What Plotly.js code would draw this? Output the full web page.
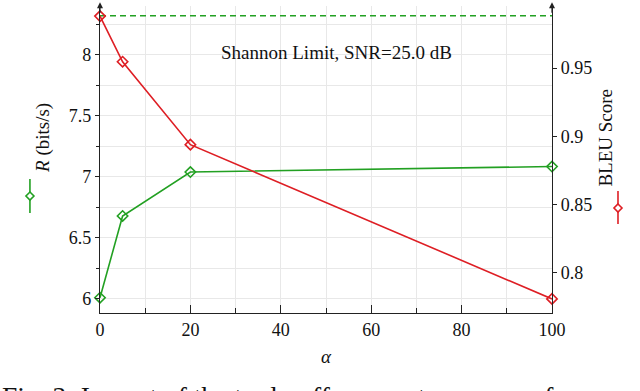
<!DOCTYPE html>
<html>
<head>
<meta charset="utf-8">
<script src="https://cdn.plot.ly/plotly-3.0.1.min.js"></script>
<style>
  body { margin: 0; background: #fff; }
  #chart { width: 640px; height: 391px; }
</style>
</head>
<body>
<div id="chart"></div>
<script>
// values
var alpha = [0, 5, 20, 100];
var rate = [6.01, 6.68, 7.04, 7.085];     // R (bits/s), left axis
var bleu = [0.988, 0.9546, 0.8939, 0.781]; // BLEU score, right axis
var shannonX = [0, 100];
var shannonY = [8.32, 8.32];
var shannonLabel = 'Shannon Limit, SNR=25.0 dB';

var green = 'rgb(34,160,34)';
var red = 'rgb(222,30,36)';
var fam = 'Liberation Serif';

function f(sz) { return {family: fam, size: sz, color: '#111'}; }

var traceR = {
  x: alpha, y: rate, type: 'scatter', mode: 'lines+markers',
  line: {color: green, width: 1.6},
  marker: {symbol: 'diamond-open', size: 8, color: green, line: {width: 1.6}},
  cliponaxis: false, yaxis: 'y'
};
var traceB = {
  x: alpha, y: bleu, type: 'scatter', mode: 'lines+markers',
  line: {color: red, width: 1.6},
  marker: {symbol: 'diamond-open', size: 8, color: red, line: {width: 1.6}},
  cliponaxis: false, yaxis: 'y2'
};
var traceS = {
  x: shannonX, y: shannonY, type: 'scatter', mode: 'lines',
  line: {color: green, width: 1.4, dash: '6px,4px'},
  yaxis: 'y'
};

//legend glyph drawn beside a rotated axis title
function glyph(xp, y0, y1, yc, col) {
  return [
    {type: 'line', xref: 'paper', yref: 'paper', x0: xp, x1: xp, y0: y0, y1: y1,
     line: {color: col, width: 1.6}},
    {type: 'path', xref: 'paper', yref: 'paper', xsizemode: 'pixel', ysizemode: 'pixel',
     xanchor: xp, yanchor: yc, path: 'M0,4 L4,0 L0,-4 L-4,0 Z',
     fillcolor: 'white', line: {color: col, width: 1.6}}
  ];
}

function upArrow(xp) {
  return {x: xp, y: 1.012, xref: 'paper', yref: 'paper', text: '', showarrow: true,
    ax: 0, ay: 12, arrowhead: 2, arrowsize: 1, arrowwidth: 1.2, arrowcolor: '#222'};
}

var layout = {
  width: 640, height: 391,
  margin: {l: 100, r: 88, t: 6, b: 78},
  paper_bgcolor: 'white', plot_bgcolor: 'white',
  showlegend: false,
  font: f(18),
  xaxis: {
    range: [0, 100], dtick: 20, ticks: 'inside', ticklen: 8, tickcolor: '#222',
    showline: true, linecolor: '#222', linewidth: 1.2, zeroline: false,
    showgrid: true, gridcolor: '#e8e8e8', gridwidth: 1, tickfont: f(18),
    minor: {dtick: 10, ticks: 'inside', ticklen: 5, tickcolor: '#222', showgrid: true, gridcolor: '#e8e8e8'},
    title: {text: '<i>α</i>', standoff: 11, font: f(19)}
  },
  yaxis: {
    range: [5.885, 8.40], dtick: 0.5, ticks: 'outside', ticklen: 4, tickcolor: '#222',
    showline: true, linecolor: '#222', linewidth: 1.2, zeroline: false,
    showgrid: true, gridcolor: '#e8e8e8', tickfont: f(18),
    minor: {dtick: 0.25, ticks: 'outside', ticklen: 3, tickcolor: '#222', showgrid: true, gridcolor: '#e8e8e8'}
  },
  yaxis2: {
    range: [0.7707, 0.9954], dtick: 0.05, overlaying: 'y', side: 'right',
    ticks: 'outside', ticklen: 4, tickcolor: '#222', tickfont: f(18),
    showline: true, linecolor: '#222', linewidth: 1.2, zeroline: false, showgrid: false
  },
  shapes: glyph(-0.155, 0.4365, 0.3257, 0.381, green).concat(glyph(1.146, 0.397, 0.290, 0.342, red)),
  annotations: [
    {x: 0.523, y: 0.89, xref: 'paper', yref: 'paper', text: shannonLabel, showarrow: false,
     font: f(19)},
    {x: -0.155, y: 0.57, xref: 'paper', yref: 'paper', text: '<i>R</i> (bits/s)', textangle: -90,
     showarrow: false, font: f(19)},
    {x: 1.146, y: 0.573, xref: 'paper', yref: 'paper', text: 'BLEU Score', textangle: -90,
     showarrow: false, font: f(19)},
    {x: -0.222, y: -0.216, xref: 'paper', yref: 'paper', xanchor: 'left', yanchor: 'top',
     text: 'Fig. 3: Impact of the trade-off parameter <i>α</i> on performances', showarrow: false,
     font: f(27.5)},
    upArrow(0), upArrow(1)
  ]
};

Plotly.newPlot('chart', [traceS, traceR, traceB], layout, {displayModeBar: false, staticPlot: true});
</script>
</body>
</html>
